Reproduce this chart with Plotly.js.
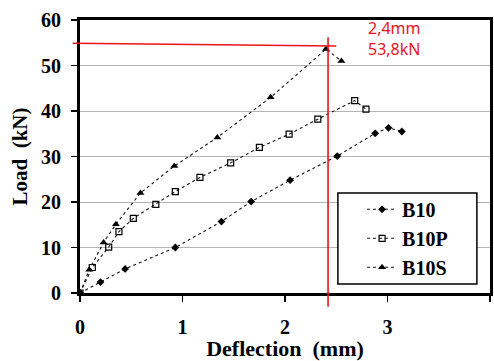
<!DOCTYPE html>
<html>
<head>
<meta charset="utf-8">
<script src="https://cdn.plot.ly/plotly-3.0.1.min.js"></script>
<style>html,body{margin:0;padding:0;background:#fff;}#chart{width:494px;height:361px;}</style>
</head>
<body>
<div id="chart"></div>
<script>
// B10 series
const b10X = [0, 0.20, 0.44, 0.93, 1.38, 1.67, 2.05, 2.51, 2.88, 3.01, 3.14];
const b10Y = [0, 2.4, 5.3, 10.0, 15.7, 20.1, 24.8, 30.1, 35.1, 36.3, 35.5];
// B10P series
const b10pX = [0, 0.12, 0.28, 0.38, 0.52, 0.74, 0.93, 1.17, 1.47, 1.75, 2.04, 2.32, 2.68, 2.79];
const b10pY = [0, 5.6, 10.1, 13.5, 16.4, 19.5, 22.3, 25.4, 28.6, 32.0, 34.9, 38.2, 42.3, 40.4];
// B10S series
const b10sX = [0, 0.09, 0.23, 0.35, 0.59, 0.92, 1.34, 1.86, 2.40, 2.55];
const b10sY = [0, 5.1, 11.1, 15.1, 22.0, 27.9, 34.2, 43.0, 53.6, 51.0];
// hand-drawn reading
const readX = 2.42;
const readY = 54.6;
const readText = ['2,4mm', '53,8kN'];
const xRange = [0, 4];
const yRange = [0, 60];

const lineStyle = {color: '#111', width: 1.1, dash: 'dot'};
const traces = [
  {x: b10X, y: b10Y, name: 'B10', mode: 'lines+markers', line: lineStyle,
   marker: {symbol: 'diamond', size: 6, color: '#000'}},
  {x: b10pX, y: b10pY, name: 'B10P', mode: 'lines+markers', line: lineStyle,
   marker: {symbol: 'square-open', size: 6, color: '#000', line: {width: 1.2, color: '#000'}}},
  {x: b10sX, y: b10sY, name: 'B10S', mode: 'lines+markers', line: lineStyle,
   marker: {symbol: 'triangle-up', size: 7, color: '#000'}}
];

const px = v => (v - xRange[0]) / (xRange[1] - xRange[0]);
const py = v => (v - yRange[0]) / (yRange[1] - yRange[0]);
const red = {color: '#e8141c', width: 1.6};

const tickFont = {family: 'Liberation Serif', size: 20, weight: 'bold', color: '#000'};
const layout = {
  width: 494, height: 361,
  margin: {l: 80, r: 4, t: 20, b: 68},
  paper_bgcolor: '#fff', plot_bgcolor: '#fff',
  showlegend: true,
  legend: {
    x: 0.688, y: 0.378, xanchor: 'left', yanchor: 'top',
    bgcolor: 'rgba(0,0,0,0)', borderwidth: 0,
    font: {family: 'Liberation Serif', size: 20, weight: 'bold', color: '#000'},
    itemwidth: 30, tracegroupgap: 0
  },
  xaxis: {
    range: xRange, dtick: 1, tick0: 0,
    showgrid: false, zeroline: false,
    showline: true, linecolor: '#000', linewidth: 3, mirror: true,
    ticks: 'outside', ticklen: 6, tickwidth: 1.5, tickcolor: '#000',
    tickfont: tickFont, ticklabelstandoff: 8,
    title: {text: 'Deflection  (mm)', font: {family: 'Liberation Serif', size: 22, weight: 'bold', color: '#000'}, standoff: 0}
  },
  yaxis: {
    range: yRange, dtick: 10, tick0: 0,
    showgrid: true, gridcolor: '#b4b4b4', gridwidth: 1, zeroline: false,
    showline: true, linecolor: '#000', linewidth: 3, mirror: true,
    ticks: 'outside', ticklen: 6, tickwidth: 1.5, tickcolor: '#000',
    tickfont: tickFont, ticklabelstandoff: 6,
    title: {text: 'Load  (kN)', font: {family: 'Liberation Serif', size: 21, weight: 'bold', color: '#000'}, standoff: 8}
  },
  shapes: [
    {type: 'rect', xref: 'paper', yref: 'paper', x0: 0.629, x1: 0.968, y0: 0.033, y1: 0.366,
     fillcolor: '#fff', line: {color: '#000', width: 1.5}, layer: 'above'},
    {type: 'line', xref: 'paper', yref: 'paper', x0: px(-0.07), y0: py(readY + 0.3), x1: px(2.5), y1: py(readY - 0.3), line: red, layer: 'above'},
    {type: 'line', xref: 'paper', yref: 'paper', x0: px(readX), y0: py(56.2), x1: px(readX), y1: py(-3.0), line: red, layer: 'above'}
  ],
  annotations: [
    {xref: 'paper', yref: 'paper', x: px(3.07), y: py(55.9), xanchor: 'center', yanchor: 'middle',
     text: readText.join('<br>'), showarrow: false,
     font: {family: 'Noto Sans', size: 16, color: '#e8141c'}}
  ]
};
Plotly.newPlot('chart', traces, layout, {displayModeBar: false, staticPlot: true});
</script>
</body>
</html>
